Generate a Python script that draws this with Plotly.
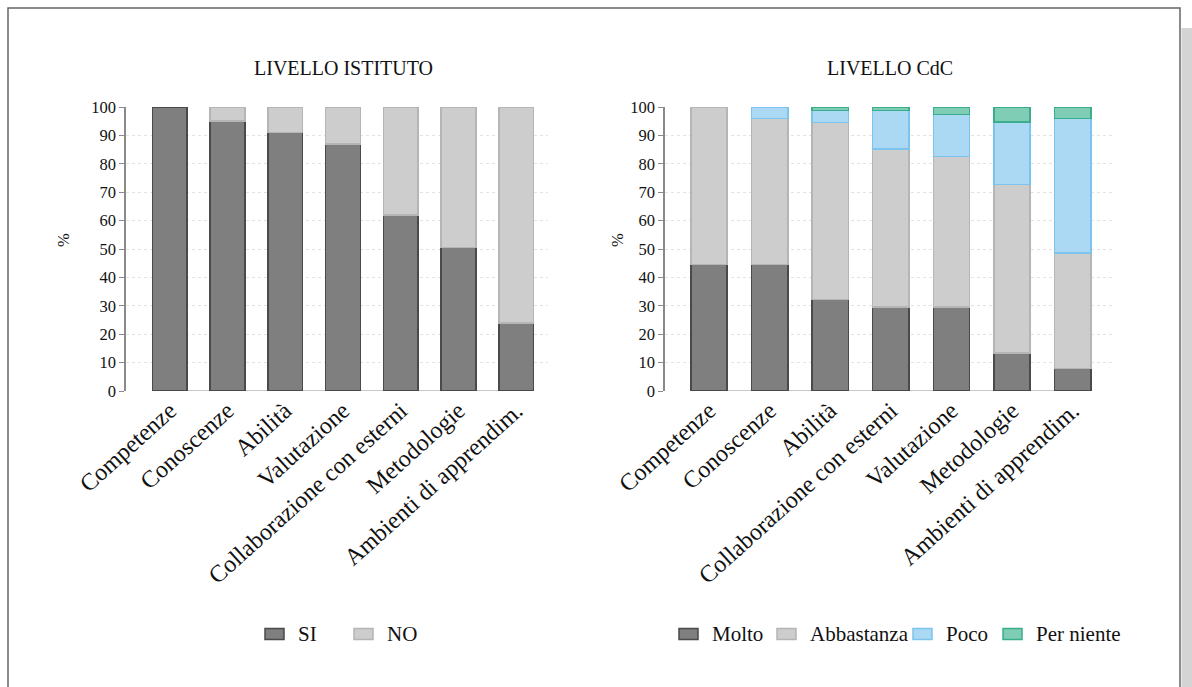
import plotly.graph_objects as go

# ---- data ----
cat_istituto = ["Competenze", "Conoscenze", "Abilità", "Valutazione",
                "Collaborazione con esterni", "Metodologie", "Ambienti di apprendim."]
si = [100, 95, 91, 87, 62, 50.5, 24]
no = [0, 5, 9, 13, 38, 49.5, 76]

cat_cdc = ["Competenze", "Conoscenze", "Abilità", "Collaborazione con esterni",
           "Valutazione", "Metodologie", "Ambienti di apprendim."]
molto = [44.5, 44.5, 32.3, 29.5, 29.5, 13.3, 7.9]
abbastanza = [55.5, 51.5, 62.3, 55.7, 53.0, 59.5, 40.7]
poco = [0, 4.0, 4.2, 13.6, 14.9, 22.0, 47.4]
per_niente = [0, 0, 1.2, 1.2, 2.6, 5.2, 4.0]

W, H = 1192, 687
SERIF = "Liberation Serif, Times New Roman, serif"


def px_x(p):
    return p / W


def px_y(p):
    return 1 - p / H


def nonzero(vals):
    # empty segments are left out so they draw no outline
    return [v if v > 0 else None for v in vals]


fig = go.Figure()

series_ist = [
    ("SI", si, "#7f7f7f", "#4a4a4a"),
    ("NO", no, "#cdcdcd", "#b5b5b5"),
]
series_cdc = [
    ("Molto", molto, "#7f7f7f", "#4a4a4a"),
    ("Abbastanza", abbastanza, "#cdcdcd", "#b5b5b5"),
    ("Poco", poco, "#abd8f2", "#7cc3ee"),
    ("Per niente", per_niente, "#80cdb5", "#3aae8c"),
]

for name, vals, fill, edge in series_ist:
    fig.add_trace(go.Bar(x=cat_istituto, y=nonzero(vals), name=name, xaxis="x", yaxis="y",
                         marker=dict(color=fill, line=dict(color=edge, width=1.5))))
for name, vals, fill, edge in series_cdc:
    fig.add_trace(go.Bar(x=cat_cdc, y=nonzero(vals), name=name, xaxis="x2", yaxis="y2",
                         marker=dict(color=fill, line=dict(color=edge, width=1.5))))

ydom = [px_y(391), px_y(107)]
yaxis_style = dict(range=[0, 100], dtick=10, showgrid=True, gridcolor="#e2e2e2",
                   griddash="dot", gridwidth=1, zeroline=False, showline=True,
                   linecolor="#8a8a8a", linewidth=1.5, ticks="outside", ticklen=5,
                   tickcolor="#8a8a8a", automargin=False,
                   tickfont=dict(family=SERIF, size=16.5, color="#111"), domain=ydom)
xaxis_style = dict(tickangle=-42, showline=False, ticks="", showgrid=False,
                   automargin=False,
                   tickfont=dict(family=SERIF, size=24, color="#111"),
                   categoryorder="array")

fig.update_layout(
    width=W, height=H,
    margin=dict(l=0, r=0, t=0, b=0, autoexpand=False),
    paper_bgcolor="white", plot_bgcolor="white",
    barmode="stack", bargap=0.4,
    showlegend=False,
    xaxis=dict(domain=[px_x(126), px_x(548)], range=[-0.758, 6.55],
               anchor="y", categoryarray=cat_istituto, **xaxis_style),
    yaxis=dict(anchor="x", **yaxis_style),
    xaxis2=dict(domain=[px_x(665), px_x(1113)], range=[-0.727, 6.666],
                anchor="y2", categoryarray=cat_cdc, **xaxis_style),
    yaxis2=dict(anchor="x2", **yaxis_style),
)

# chart titles and y-axis labels
for xp, text in [(343, "LIVELLO ISTITUTO"), (890, "LIVELLO CdC")]:
    fig.add_annotation(x=px_x(xp), y=px_y(68), xref="paper", yref="paper",
                       xanchor="center", yanchor="middle",
                       text=text, showarrow=False,
                       font=dict(family=SERIF, size=20, color="#111"))
for xp in [64, 618]:
    fig.add_annotation(x=px_x(xp), y=px_y(240), xref="paper", yref="paper",
                       xanchor="center", yanchor="middle",
                       text="%", textangle=-90, showarrow=False,
                       font=dict(family=SERIF, size=16.5, color="#111"))

# legends: swatch + label, one row under each chart
LEG_Y = 634
legend_items = [
    (series_ist[0], 265), (series_ist[1], 354),
    (series_cdc[0], 679), (series_cdc[1], 777),
    (series_cdc[2], 913), (series_cdc[3], 1003),
]
for (name, _vals, fill, edge), x0 in legend_items:
    fig.add_shape(type="rect", xref="paper", yref="paper",
                  x0=px_x(x0), x1=px_x(x0 + 19), y0=px_y(LEG_Y + 5.5), y1=px_y(LEG_Y - 5.5),
                  fillcolor=fill, line=dict(color=edge, width=1.5))
    fig.add_annotation(x=px_x(x0 + 31), y=px_y(LEG_Y), xref="paper", yref="paper",
                       xanchor="left", yanchor="middle", text=name, showarrow=False,
                       font=dict(family=SERIF, size=21, color="#111"))

# baseline under the bars
for xr, yr, n in [("x", "y", len(cat_istituto)), ("x2", "y2", len(cat_cdc))]:
    fig.add_shape(type="line", xref=xr, yref=yr, x0=0, x1=n - 1, y0=0, y1=0,
                  line=dict(color="#c8c8c8", width=2), layer="below")

# page frame and scrollbar strip
fig.add_shape(type="rect", xref="paper", yref="paper",
              x0=px_x(8), x1=px_x(1180), y0=-0.05, y1=px_y(8),
              line=dict(color="#666", width=1.5), fillcolor="rgba(0,0,0,0)")
fig.add_shape(type="rect", xref="paper", yref="paper",
              x0=px_x(1181.5), x1=1.0, y0=0, y1=px_y(28),
              line=dict(width=0), fillcolor="#d4d4d4")

fig.write_html("out.html")
